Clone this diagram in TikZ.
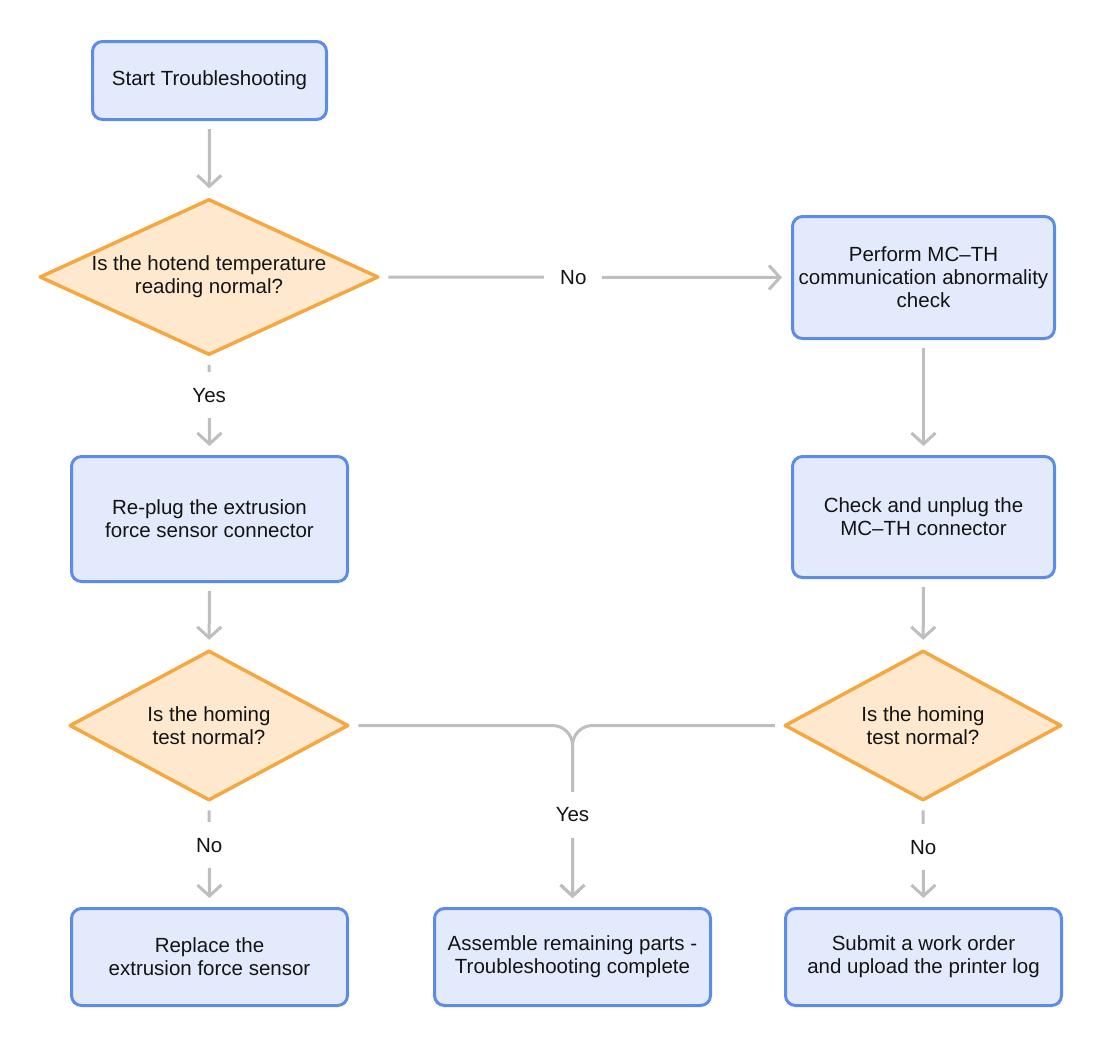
\documentclass[tikz,border=0pt]{standalone}
\usepackage{fontspec}
\setmainfont{Liberation Sans}
\usetikzlibrary{shapes.geometric,arrows.meta}
\definecolor{boxfill}{RGB}{226,234,252}
\definecolor{boxline}{RGB}{92,140,232}
\definecolor{dfill}{RGB}{255,233,206}
\definecolor{dline}{RGB}{245,167,66}
\definecolor{connc}{RGB}{190,190,190}
\definecolor{txt}{RGB}{20,20,20}
\begin{document}
\begin{tikzpicture}[x=1pt,y=-1pt,
 every node/.style={font=\fontsize{20.5}{23}\selectfont, text=txt},
 procbox/.style={draw=boxline, fill=boxfill, line width=3pt, rounded corners=10pt, align=center, inner sep=0pt},
 decision/.style={diamond, draw=dline, fill=dfill, line width=3.5pt, line join=round, align=center, inner sep=0pt},
 flow/.style={draw=connc, line width=3pt, -{Straight Barb[length=11pt,width=24pt]}, shorten <=8pt, shorten >=9pt},
 lbl/.style={fill=white, inner sep=16pt}]
\useasboundingbox (0,0) rectangle (1105,1037);

\node[procbox, minimum width=234pt, minimum height=78pt] (start) at (209.5,80.5) {Start Troubleshooting};
\node[decision, shape aspect=2.15, minimum width=339pt, minimum height=156pt] (d1) at (209,277) {Is the hotend temperature\\reading normal?};
\node[procbox, minimum width=262pt, minimum height=122pt] (perf) at (923.5,277.5) {Perform MC–TH\\communication abnormality\\check};
\node[procbox, minimum width=276pt, minimum height=125pt] (replug) at (209.5,519) {Re-plug the extrusion\\force sensor connector};
\node[procbox, minimum width=262pt, minimum height=121pt] (check) at (923.5,517) {Check and unplug the\\MC–TH connector};
\node[decision, shape aspect=1.84, minimum width=279pt, minimum height=150pt] (d2) at (209,725.5) {Is the homing\\test normal?};
\node[decision, shape aspect=1.83, minimum width=277pt, minimum height=150pt] (d3) at (923,725.5) {Is the homing\\test normal?};
\node[procbox, minimum width=276pt, minimum height=97pt] (repl) at (209.5,957) {Replace the\\extrusion force sensor};
\node[procbox, minimum width=276pt, minimum height=97pt] (asm) at (572.5,957) {Assemble remaining parts -\\Troubleshooting complete};
\node[procbox, minimum width=276pt, minimum height=97pt] (sub) at (923.5,957) {Submit a work order\\and upload the printer log};

\draw[flow] (start) -- (d1);
\draw[flow] (d1.east) -- node[lbl, pos=0.47] (lno1) {No} (perf.west);
\draw[flow] (d1.south) -- node[lbl, pos=0.39] (lyes1) {Yes} (replug.north);
\draw[flow] (perf) -- (check);
\draw[flow] (replug) -- (d2);
\draw[flow] (check) -- (d3);
\draw[flow] (d2.south) -- node[lbl, pos=0.41] (lno2) {No} (repl.north);
\draw[flow] (d3.south) -- node[lbl, pos=0.43] (lno3) {No} (sub.north);
\draw[flow, rounded corners=20pt] (d2.east) -| (asm.north);
\draw[flow, rounded corners=20pt] (d3.west) -| (asm.north);
\node[lbl] (lyes2) at (572.5,815) {Yes};
\end{tikzpicture}
\end{document}
